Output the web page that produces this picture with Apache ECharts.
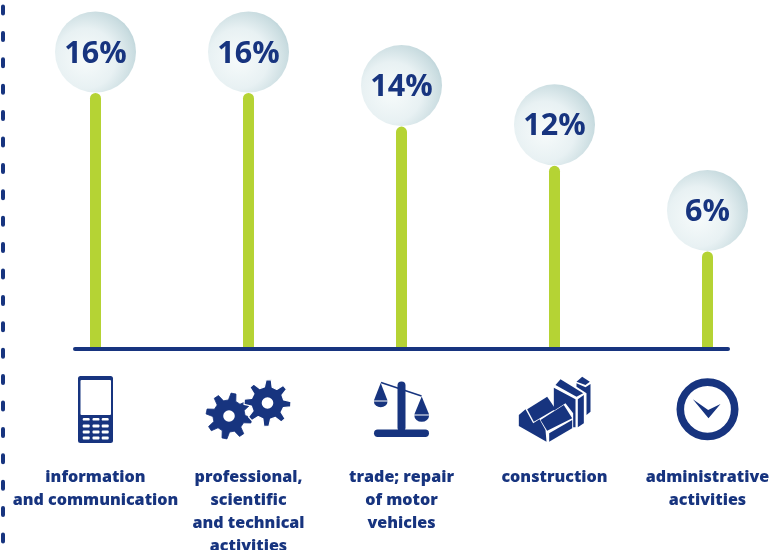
<!DOCTYPE html>
<html><head><meta charset="utf-8">
<style>html,body{margin:0;padding:0;background:#fff}#c{width:770px;height:550px}</style>
<script src="https://cdn.jsdelivr.net/npm/echarts@6/dist/echarts.min.js"></script>
</head><body><div id="c"></div>
<script>
const categories = ['information\nand communication','professional,\nscientific\nand technical\nactivities','trade; repair\nof motor\nvehicles','construction','administrative\nactivities'];
const barHeights = [16, 16, 13.9, 11.45, 6.1];
const percentLabels = ['16%','16%','14%','12%','6%'];
const NAVY = '#17347f', GREEN = '#b5d334';
const FONT = '"Open Sans", sans-serif';

// Icon geometry, in pixels relative to the base of each column
function poly(pts, fill){ return {type:'polygon', shape:{points:pts}, style:{fill:fill||NAVY}}; }
function rect(x,y,w,h,r,fill){ return {type:'rect', shape:{x,y,width:w,height:h,r:r||0}, style:{fill:fill||NAVY}}; }
function gear(cx,cy,R,rot,outline){
  const pts=[]; const n=8, r=R*0.70, s=Math.PI*2/n;
  for(let i=0;i<n;i++){
    const a=i*s+rot;
    [[r,-0.30],[R,-0.14],[R,0.14],[r,0.30]].forEach(p=>{
      pts.push([cx+p[0]*Math.cos(a+p[1]*s),cy+p[0]*Math.sin(a+p[1]*s)]);
    });
  }
  return [
    {type:'polygon',shape:{points:pts},style:{fill:NAVY,stroke:outline?'#fff':NAVY,lineWidth:outline?1.2:0.8,lineJoin:'round'}},
    {type:'circle',shape:{cx,cy,r:5.8},style:{fill:'#fff'}}
  ];
}
function zp(list,cx){ return list.map(p=>[p[0]/3+340-cx, p[1]/3+340-349]); }

const icons = [
  function(){ // phone
    const c=[rect(-17.5,27,35,67,2.5), rect(-15,31,30.5,35,1,'#fff')];
    [-12.8,-3,6.2].forEach(x=>{
      c.push(rect(x,69,7,2.6,1.2,'#fff'));
      [75.5,81.5,87.5].forEach(y=>c.push(rect(x,y,7,3,1,'#fff')));
    });
    return c;
  },
  function(){ return gear(-19.5,67,23,0.2,false).concat(gear(19,54,23.5,0.05,true)); },
  function(){ // scales
    const pan=(ax,ay,hw,by)=>[
      poly([[ax,ay],[ax-hw,by],[ax+hw,by]]),
      {type:'path',shape:{pathData:`M${ax-hw} ${by+1}A${hw} ${hw*0.85} 0 0 0 ${ax+hw} ${by+1}Z`},style:{fill:NAVY}}
    ];
    return [
      {type:'line',shape:{x1:-20.5,y1:33.5,x2:20,y2:47},style:{stroke:NAVY,lineWidth:1.6}},
      rect(-4,32.5,8,50,4),
      rect(-27.5,80.5,55,7.5,3.7)
    ].concat(pan(-20.8,34,6.8,51.5)).concat(pan(20.2,47.5,7.4,65.5));
  },
  function(){ // buildings
    const cx=554;
    const shapes=[
      [[560,208],[620,170],[645,207],[580,245]],
      [[535,225],[555,208],[578,250],[597,238],[615,270],[618,305],[535,258]],
      [[600,240],[670,195],[695,235],[620,272]],
      [[626,280],[695,240],[695,265],[626,305]],
      [[645,135],[660,118],[728,160],[708,170]],
      [[640,143],[705,178],[705,262],[698,262],[698,220],[675,190],[640,212]],
      [[712,178],[730,165],[730,250],[712,262]],
      [[708,125],[725,110],[748,125],[735,135]],
      [[708,130],[735,142],[750,132],[750,215],[738,225],[738,160],[708,140]]
    ];
    return shapes.map(s=>poly(zp(s,cx)));
  },
  function(){ // clock
    return [
      {type:'circle',shape:{cx:0,cy:60.3,r:27.2},style:{fill:'#fff',stroke:NAVY,lineWidth:7.6}},
      poly(zp([[1057,178],[1103,210],[1140,192],[1104,235]],707))
    ];
  }
];

const chart = echarts.init(document.getElementById('c'), null, {renderer:'canvas'});
chart.setOption({
  animation:false,
  backgroundColor:'#fff',
  grid:[
    {left:19, width:765, top:29, bottom:201, outerBoundsMode:'none'},
    {left:75, right:42, top:29, bottom:201, outerBoundsMode:'none'},
    {left:3, width:10, top:0, bottom:0, outerBoundsMode:'none'}
  ],
  xAxis:[
    {type:'category', gridIndex:0, data:categories, axisLine:{show:false}, axisTick:{show:false},
     axisLabel:{interval:0, margin:117, color:NAVY, fontFamily:FONT, fontWeight:800, fontSize:16.1, lineHeight:23, verticalAlign:'top', align:'center'}},
    {type:'value', gridIndex:1, min:0, max:1, splitLine:{show:false}, axisTick:{show:false}, axisLabel:{show:false},
     axisLine:{show:true, onZero:false, lineStyle:{color:NAVY, width:4, cap:'round'}}, z:6},
    {type:'value', gridIndex:2, show:false, min:0, max:1}
  ],
  yAxis:[
    {type:'value', gridIndex:0, min:0, max:20, show:false},
    {type:'value', gridIndex:1, min:0, max:20, show:false},
    {type:'value', gridIndex:2, min:0, max:1, splitLine:{show:false}, axisTick:{show:false}, axisLabel:{show:false},
     axisLine:{show:true, onZero:false, lineStyle:{color:NAVY, width:4, cap:'round', type:[7,19.4], dashOffset:17.9}}}
  ],
  series:[
    {type:'bar', xAxisIndex:0, yAxisIndex:0, data:barHeights, barWidth:11, itemStyle:{color:GREEN, borderRadius:[5.5,5.5,0,0]}, silent:true},
    {type:'scatter', xAxisIndex:0, yAxisIndex:0, symbol:'circle', symbolSize:81, symbolOffset:[0,-41], z:4,
     data:barHeights.map((v,i)=>({value:v, name:percentLabels[i]})),
     itemStyle:{opacity:1, color:{type:'radial', x:0.38, y:0.58, r:0.74, colorStops:[
       {offset:0,color:'#f7fbfb'},{offset:0.5,color:'#e8f1f3'},{offset:0.82,color:'#c9dce0'},{offset:1,color:'#a8c6ce'}]}},
     label:{show:true, position:'inside', offset:[0,2], formatter:p=>p.name, color:NAVY, fontFamily:FONT, fontWeight:700, fontSize:30.5}},
    {type:'custom', xAxisIndex:0, yAxisIndex:0, data:categories.map((c,i)=>[i,0]), clip:false,
     renderItem:function(params,api){
       const p=api.coord([api.value(0),0]);
       return {type:'group', x:p[0], y:p[1], children:icons[params.dataIndex]()};
     }}
  ]
});
</script></body></html>
